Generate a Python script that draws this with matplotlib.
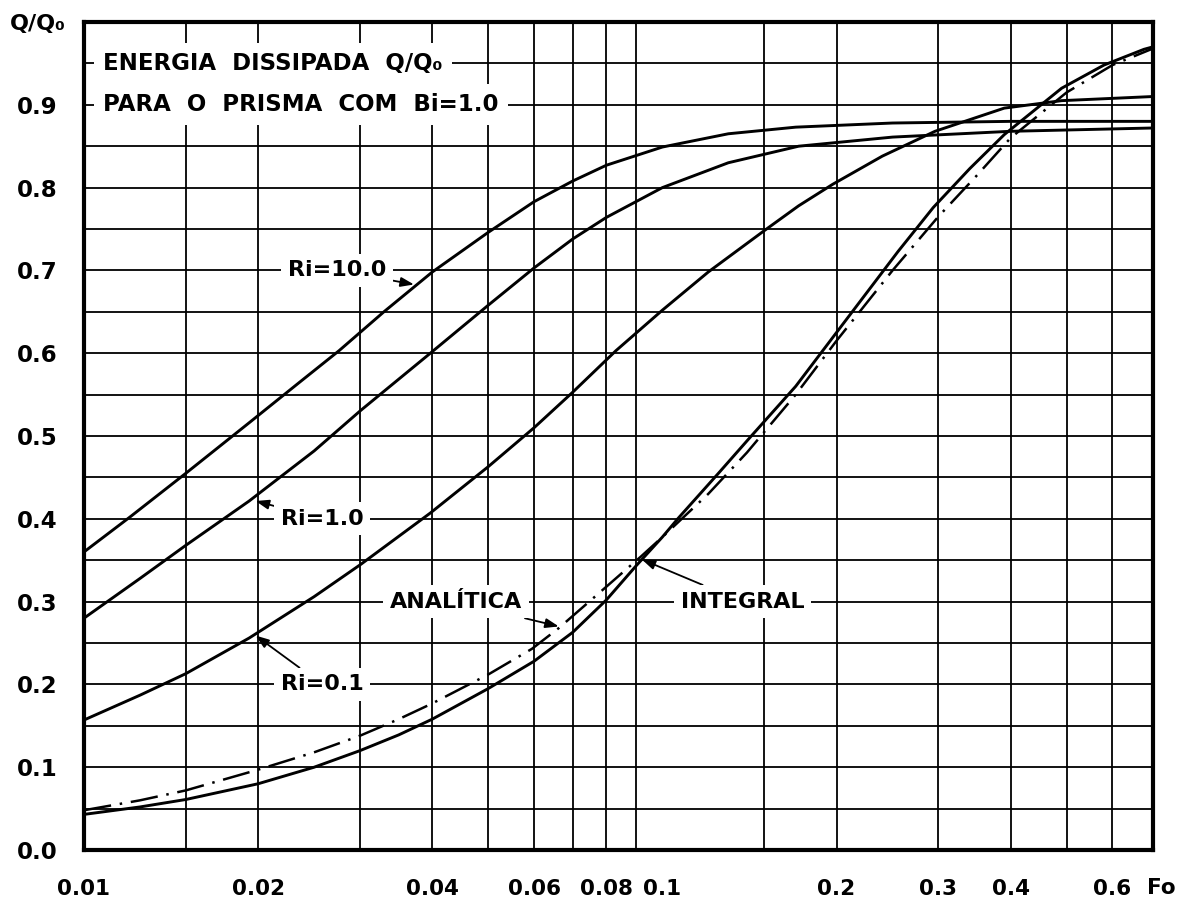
import matplotlib
matplotlib.use("Agg")
import matplotlib.pyplot as plt
from matplotlib.ticker import FixedLocator, FixedFormatter, NullLocator

plt.rcParams['font.family'] = ['DejaVu Sans']
plt.rcParams['font.weight'] = 'bold'

# Fourier number (log axis) and dissipated energy fraction Q/Q0
fo_ri10 = [0.010, 0.012, 0.015, 0.0193, 0.0235, 0.0276, 0.033, 0.040, 0.050,
           0.060, 0.070, 0.080, 0.100, 0.130, 0.170, 0.250, 0.400, 0.705]
q_ri10 = [0.360, 0.402, 0.455, 0.516, 0.564, 0.603, 0.650, 0.698, 0.746,
          0.783, 0.808, 0.827, 0.849, 0.865, 0.873, 0.878, 0.880, 0.880]

fo_ri1 = [0.010, 0.0125, 0.015, 0.0193, 0.025, 0.0301, 0.0397, 0.050, 0.060,
          0.070, 0.080, 0.100, 0.130, 0.172, 0.250, 0.400, 0.705]
q_ri1 = [0.280, 0.328, 0.368, 0.4215, 0.482, 0.531, 0.600, 0.658, 0.703,
         0.738, 0.764, 0.800, 0.830, 0.850, 0.861, 0.868, 0.872]

fo_ri01 = [0.010, 0.0125, 0.015, 0.0193, 0.025, 0.0301, 0.0397, 0.050, 0.060,
           0.070, 0.0831, 0.100, 0.120, 0.150, 0.172, 0.197, 0.240, 0.296,
           0.390, 0.490, 0.705]
q_ri01 = [0.157, 0.187, 0.213, 0.256, 0.306, 0.345, 0.407, 0.463, 0.510,
          0.553, 0.603, 0.652, 0.698, 0.748, 0.778, 0.804, 0.838, 0.868,
          0.896, 0.905, 0.910]

fo_integral = [0.010, 0.0125, 0.015, 0.020, 0.025, 0.030, 0.035, 0.040, 0.050,
               0.060, 0.070, 0.080, 0.090, 0.100, 0.1066, 0.125, 0.1408, 0.170,
               0.200, 0.2556, 0.294, 0.340, 0.390, 0.490, 0.580, 0.680, 0.705]
q_integral = [0.043, 0.052, 0.061, 0.080, 0.100, 0.120, 0.139, 0.158, 0.195,
              0.228, 0.263, 0.302, 0.343, 0.378, 0.401, 0.455, 0.496, 0.560,
              0.625, 0.723, 0.776, 0.823, 0.864, 0.920, 0.948, 0.967, 0.970]

fo_analytic = [0.010, 0.0125, 0.015, 0.020, 0.025, 0.030, 0.035, 0.040, 0.050,
               0.0595, 0.0662, 0.080, 0.092, 0.100, 0.120, 0.140, 0.170, 0.200,
               0.250, 0.300, 0.350, 0.400, 0.500, 0.600, 0.705]
q_analytic = [0.048, 0.060, 0.072, 0.097, 0.118, 0.138, 0.158, 0.177, 0.212,
              0.243, 0.268, 0.318, 0.355, 0.378, 0.430, 0.480, 0.550, 0.615,
              0.700, 0.765, 0.815, 0.860, 0.915, 0.948, 0.968]

x_tick_values = [0.01, 0.02, 0.04, 0.06, 0.08, 0.1, 0.2, 0.3, 0.4, 0.6]
x_tick_labels = ['0.01', '0.02', '0.04', '0.06', '0.08', '0.1', '0.2', '0.3', '0.4', '0.6']
y_tick_values = [0.0, 0.1, 0.2, 0.3, 0.4, 0.5, 0.6, 0.7, 0.8, 0.9]
y_tick_labels = ['0.0', '0.1', '0.2', '0.3', '0.4', '0.5', '0.6', '0.7', '0.8', '0.9']
x_grid = [0.015, 0.02, 0.03, 0.04, 0.05, 0.06, 0.07, 0.08, 0.09,
          0.15, 0.2, 0.3, 0.4, 0.5, 0.6]
y_grid = [0.05, 0.10, 0.15, 0.20, 0.25, 0.30, 0.35, 0.40, 0.45,
          0.50, 0.55, 0.60, 0.65, 0.70, 0.75, 0.80, 0.85, 0.90, 0.95]

W, H = 1186, 900
fig = plt.figure(figsize=(W / 100, H / 100), dpi=100)
ax = fig.add_axes([84 / W, 50 / H, (1153 - 84) / W, (850 - 22) / H])
ax.set_xscale('log')
ax.set_xlim(0.01, 0.705)
ax.set_ylim(0.0, 1.0)

for gx in x_grid:
    ax.axvline(gx, color='black', lw=1.3, zorder=1)
for gy in y_grid:
    ax.axhline(gy, color='black', lw=1.3, zorder=1)

line_kw = dict(color='black', lw=2.1, zorder=3, solid_capstyle='round',
               solid_joinstyle='round')
ax.plot(fo_ri10, q_ri10, **line_kw)
ax.plot(fo_ri1, q_ri1, **line_kw)
ax.plot(fo_ri01, q_ri01, **line_kw)
ax.plot(fo_integral, q_integral, **line_kw)
ax.plot(fo_analytic, q_analytic, color='black', lw=1.8, zorder=3,
        linestyle=(0, (11, 3.5, 1, 3.5)))

ax.xaxis.set_major_locator(FixedLocator(x_tick_values))
ax.xaxis.set_major_formatter(FixedFormatter(x_tick_labels))
ax.xaxis.set_minor_locator(NullLocator())
ax.yaxis.set_major_locator(FixedLocator(y_tick_values))
ax.yaxis.set_major_formatter(FixedFormatter(y_tick_labels))
ax.tick_params(axis='x', length=0, pad=21, labelsize=15.5)
ax.tick_params(axis='y', length=0, pad=19, labelsize=16.5)
for lab in ax.get_xticklabels() + ax.get_yticklabels():
    lab.set_fontweight('bold')

for sp in ax.spines.values():
    sp.set_linewidth(3.0)
    sp.set_zorder(5)

box = dict(boxstyle='square,pad=0.4', fc='white', ec='none')
ax.text(0.0108, 0.95, 'ENERGIA  DISSIPADA  Q/Q\u2080', fontsize=16.5, fontweight='bold',
        va='center', ha='left', bbox=box, zorder=4)
ax.text(0.0108, 0.90, 'PARA  O  PRISMA  COM  Bi=1.0', fontsize=16.5, fontweight='bold',
        va='center', ha='left', bbox=box, zorder=4)

lbl_box = dict(boxstyle='square,pad=0.3', fc='white', ec='none')
arrow = dict(arrowstyle='-|>,head_length=0.5,head_width=0.18', color='black', lw=1.3,
             shrinkA=0, shrinkB=0)

ax.annotate('Ri=10.0', xy=(0.0372, 0.683), xytext=(0.0225, 0.70),
            fontsize=16, fontweight='bold', va='center', ha='left',
            bbox=lbl_box, arrowprops=arrow, zorder=4)
ax.annotate('Ri=1.0', xy=(0.0198, 0.4215), xytext=(0.0219, 0.40),
            fontsize=16, fontweight='bold', va='center', ha='left',
            bbox=lbl_box, arrowprops=arrow, zorder=4)
ax.annotate('Ri=0.1', xy=(0.0198, 0.259), xytext=(0.0219, 0.20),
            fontsize=16, fontweight='bold', va='center', ha='left',
            bbox=lbl_box, arrowprops=arrow, zorder=4)
ax.annotate('ANAL\u00cdTICA', xy=(0.0662, 0.270), xytext=(0.0338, 0.30),
            fontsize=16, fontweight='bold', va='center', ha='left',
            bbox=lbl_box, arrowprops=arrow, zorder=4)
ax.annotate('INTEGRAL', xy=(0.0921, 0.351), xytext=(0.1075, 0.30),
            fontsize=16, fontweight='bold', va='center', ha='left',
            bbox=lbl_box, arrowprops=arrow, zorder=4)

fig.text(38 / W, 1 - 24 / H, 'Q/Q\u2080', fontsize=16, fontweight='bold',
         ha='center', va='center')
fig.text(1147 / W, 1 - 888 / H, 'Fo', fontsize=15.5, fontweight='bold',
         ha='left', va='center')

fig.savefig('out.png', dpi=100, facecolor='white')
